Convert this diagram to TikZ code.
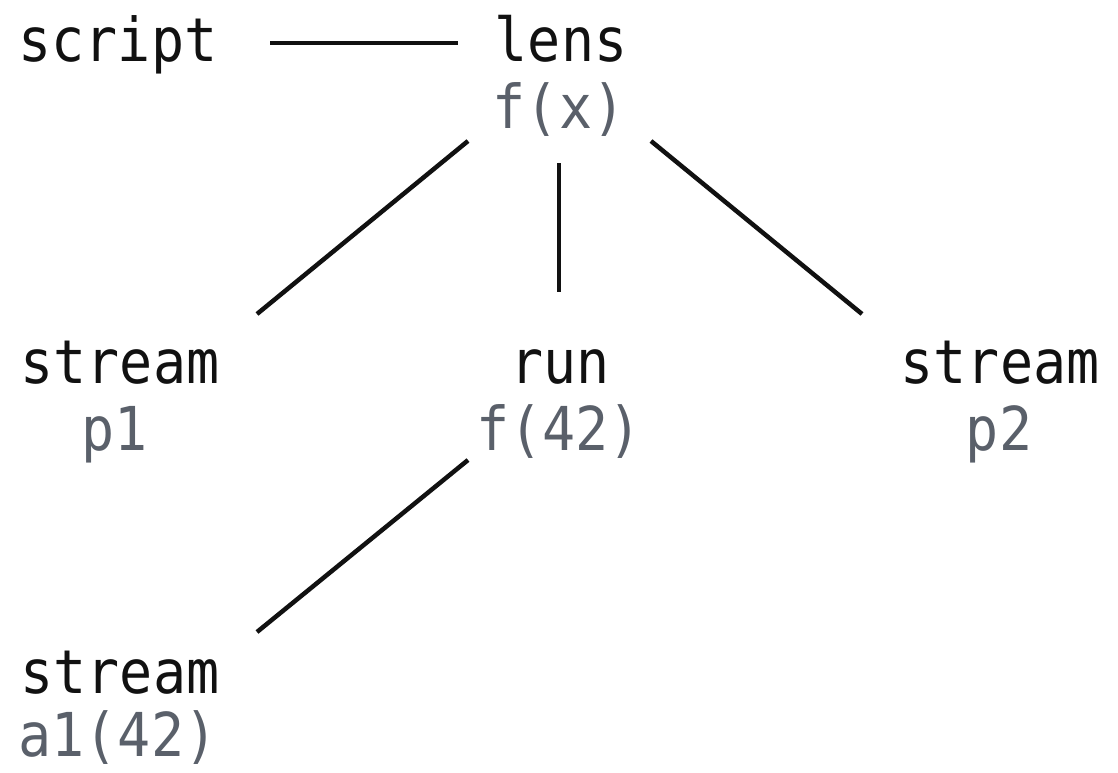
\documentclass[tikz,border=0pt]{standalone}
\usepackage{fontspec}
\setmonofont{DejaVu Sans Mono}
\usetikzlibrary{calc}
\definecolor{subgrey}{HTML}{5A606A}
\definecolor{ink}{HTML}{111111}
\newcommand{\tallt}[1]{\scalebox{1}[1.1]{#1}}
\begin{document}
\begin{tikzpicture}[x=1pt,y=1pt,
  lbl/.style={anchor=base,inner sep=0pt,font=\ttfamily\fontsize{55}{60}\selectfont,text=ink},
  sub/.style={lbl,text=subgrey},
  edge/.style={draw=ink,line width=4.5pt}]
\useasboundingbox (0,0) rectangle (1118,-772);
\node[lbl] (script) at (118,-61) {\tallt{script}};
\node[lbl] (lens) at (561,-61) {\tallt{lens}};
\node[sub] (lensf) at (559,-128) {\tallt{f(x)}};
\node[lbl] (s1) at (120,-383) {\tallt{stream}};
\node[sub] (p1) at (115,-450) {\tallt{p1}};
\node[lbl] (run) at (560,-383) {\tallt{run}};
\node[sub] (runf) at (559,-450) {\tallt{f(42)}};
\node[lbl] (s2) at (1000,-383) {\tallt{stream}};
\node[sub] (p2) at (999,-450) {\tallt{p2}};
\node[lbl] (s3) at (120,-693) {\tallt{stream}};
\node[sub] (a1) at (118,-756) {\tallt{a1(42)}};
\draw[edge] ($(script.base)+(152,18)$) -- ($(lens.base)+(-103,18)$);
\draw[edge] ($(lensf.base)+(-91,-13)$) -- ($(s1.base)+(137,69)$);
\draw[edge] ($(lensf.base)+(0,-35)$) -- ($(run.base)+(-1,91)$);
\draw[edge] ($(lensf.base)+(92,-13)$) -- ($(s2.base)+(-138,69)$);
\draw[edge] ($(runf.base)+(-91,-10)$) -- ($(s3.base)+(137,61)$);
\end{tikzpicture}
\end{document}
